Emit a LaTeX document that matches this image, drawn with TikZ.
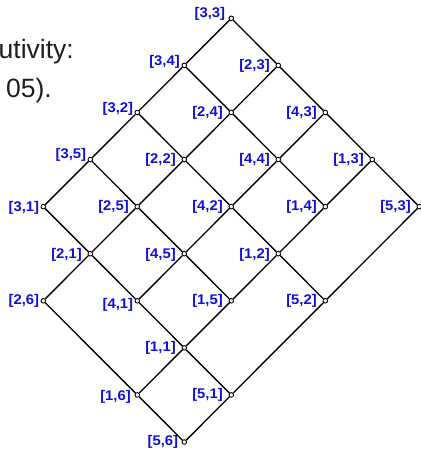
\documentclass[tikz,border=0pt]{standalone}
\usepackage{fontspec}
\setmainfont{Liberation Sans}
\newfontfamily\lblfont{Liberation Sans Bold}[FakeStretch=1.06]
\usetikzlibrary{calc}
\definecolor{lblblue}{RGB}{15,15,215}
\definecolor{inktext}{RGB}{30,30,30}
\tikzset{
  vtx/.style={circle, draw, fill=white, inner sep=0pt, minimum size=4.6pt, line width=0.9pt},
  lnk/.style={line width=1.35pt, black},
  lbl/.style={anchor=east, inner sep=0pt, text=lblblue,
              font=\lblfont\fontsize{14}{16}\selectfont},
  caption/.style={anchor=base east, inner sep=0pt, text=inktext,
              font=\fontsize{26.5}{32}\selectfont},
}
% vertex of the lattice: name, column, row, text, label gap, label vertical shift
\newcommand\vlat[6]{%
  \node[vtx] (#1) at ({43.3+47*#2},{18.3+47.08*#3}) {};
  \node[lbl] (#1-l) at ($(#1.center)+(-#5,#6)$) {#4};
}
\begin{document}
\begin{tikzpicture}[x=1pt,y=-1pt]
  \useasboundingbox (0,0) rectangle (421,451);

  % heading text, running off the left edge
  \node[caption] (cap1) at (74,58.3) {utivity:};
  \node[caption] (cap2) at (52,97) {05).};

  % vertices
  \vlat{n33}{4}{0}{[3,3]}{6}{-4.6}
  \vlat{n34}{3}{1}{[3,4]}{4.3}{-4}
  \vlat{n23}{5}{1}{[2,3]}{8.3}{0}
  \vlat{n32}{2}{2}{[3,2]}{4}{-4}
  \vlat{n24}{4}{2}{[2,4]}{8.3}{0}
  \vlat{n43}{6}{2}{[4,3]}{8.3}{0}
  \vlat{n35}{1}{3}{[3,5]}{4}{-5}
  \vlat{n22}{3}{3}{[2,2]}{8.3}{0.5}
  \vlat{n44}{5}{3}{[4,4]}{8.3}{0.5}
  \vlat{n13}{7}{3}{[1,3]}{8.3}{0.5}
  \vlat{n31}{0}{4}{[3,1]}{4}{1}
  \vlat{n25}{2}{4}{[2,5]}{8.3}{0}
  \vlat{n42}{4}{4}{[4,2]}{8.3}{0.5}
  \vlat{n14}{6}{4}{[1,4]}{8.3}{0.5}
  \vlat{n53}{8}{4}{[5,3]}{8.3}{0.5}
  \vlat{n21}{1}{5}{[2,1]}{8.3}{1}
  \vlat{n45}{3}{5}{[4,5]}{8.3}{1}
  \vlat{n12}{5}{5}{[1,2]}{8.3}{1}
  \vlat{n26}{0}{6}{[2,6]}{4}{0}
  \vlat{n41}{2}{6}{[4,1]}{4}{4.5}
  \vlat{n15}{4}{6}{[1,5]}{8.3}{0}
  \vlat{n52}{6}{6}{[5,2]}{8.3}{0}
  \vlat{n11}{3}{7}{[1,1]}{8.3}{0.5}
  \vlat{n16}{2}{8}{[1,6]}{6.3}{2}
  \vlat{n51}{4}{8}{[5,1]}{8.3}{0}
  \vlat{n56}{3}{9}{[5,6]}{6}{0}

  % covering relations, drawn between the vertex circles
  \foreach \a/\b in {n33/n34, n33/n23,
                     n34/n32, n34/n24, n23/n24, n23/n43,
                     n32/n35, n32/n22, n24/n22, n24/n44, n43/n44, n43/n13,
                     n35/n31, n35/n25, n22/n25, n22/n42, n44/n42, n44/n14, n13/n14, n13/n53,
                     n31/n21, n25/n21, n25/n45, n42/n45, n42/n12, n14/n12, n53/n52,
                     n21/n26, n21/n41, n45/n41, n45/n15, n12/n15, n12/n52,
                     n26/n16, n41/n11, n15/n11, n52/n51,
                     n11/n16, n11/n51, n16/n56, n51/n56}
    \draw[lnk] (\a) -- (\b);
\end{tikzpicture}
\end{document}
